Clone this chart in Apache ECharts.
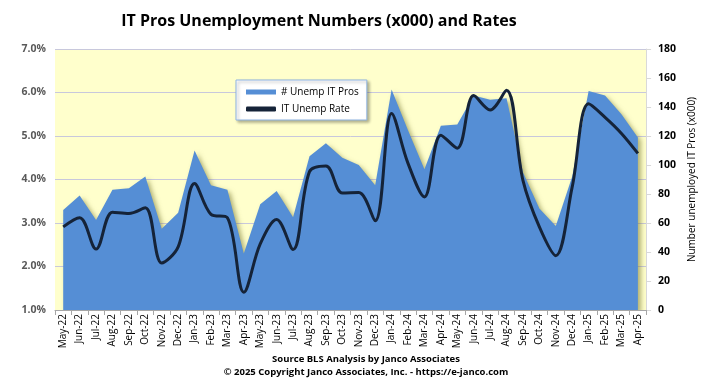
<!DOCTYPE html>
<html><head><meta charset="utf-8">
<script src="https://cdn.jsdelivr.net/npm/echarts@6/dist/echarts.min.js"></script>
<style>html,body{margin:0;padding:0;background:#fff}#c{width:705px;height:387px}</style>
</head><body><div id="c"></div>
<script>
const categories = ['May-22','Jun-22','Jul-22','Aug-22','Sep-22','Oct-22','Nov-22','Dec-22','Jan-23','Feb-23','Mar-23','Apr-23','May-23','Jun-23','Jul-23','Aug-23','Sep-23','Oct-23','Nov-23','Dec-23','Jan-24','Feb-24','Mar-24','Apr-24','May-24','Jun-24','Jul-24','Aug-24','Sep-24','Oct-24','Nov-24','Dec-24','Jan-25','Feb-25','Mar-25','Apr-25'];
const unempPros = [69,79,62,83,84,92,56,67,110,86,83,39,73,82,64,106,115,105,100,86,152,124,97,127,128,148,145,146,95,70,58,92,151,148,135,119];
const unempRate = [2.91,3.12,2.40,3.25,3.22,3.35,2.08,2.45,3.91,3.20,3.12,1.41,2.52,3.08,2.39,4.18,4.31,3.69,3.70,3.05,5.52,4.37,3.60,5.02,4.72,5.93,5.60,6.05,3.98,2.91,2.25,3.83,5.74,5.43,5.06,4.60];
const leftTicks = {min:1, max:7, interval:1};
const rightTicks = {min:0, max:180, interval:20};

const chart = echarts.init(document.getElementById('c'));
const font = '"Open Sans", "Liberation Sans", sans-serif';
chart.setOption({
  animation:false,
  backgroundColor:'#fff',
  title:{text:'IT Pros Unemployment Numbers (x000) and Rates', left:314, top:8, textAlign:'center',
    textStyle:{fontFamily:font, fontSize:16, fontWeight:'bold', color:'#000'}},
  legend:{left:236, top:80, width:145, orient:'vertical', itemGap:7, itemWidth:30, itemHeight:5,
    backgroundColor:'#fff', borderColor:'#8eb4e3', borderWidth:1, padding:[7,8,6,10],
    shadowColor:'rgba(0,0,0,0.3)', shadowBlur:3, shadowOffsetX:2, shadowOffsetY:2,
    textStyle:{fontFamily:font, fontSize:10, color:'#000'},
    data:[{name:'# Unemp IT Pros', icon:'rect'},{name:'IT Unemp Rate', icon:'roundRect'}]},
  grid:{left:55, right:56, top:49, bottom:77, show:true, backgroundColor:'#ffffcc', borderWidth:0},
  xAxis:{type:'category', data:categories, boundaryGap:true,
    axisLine:{lineStyle:{color:'#a6a6a6'}}, axisTick:{show:true, alignWithLabel:false, lineStyle:{color:'#a6a6a6'}},
    axisLabel:{rotate:90, interval:0, fontFamily:font, fontSize:10, color:'#000', margin:4}},
  yAxis:[
    {type:'value', min:leftTicks.min, max:leftTicks.max, interval:leftTicks.interval,
      axisLabel:{formatter:v=>v.toFixed(1)+'%', fontFamily:font, fontSize:10.5, fontWeight:'bold', color:'#595959', margin:9},
      axisLine:{show:false}, axisTick:{show:false},
      splitLine:{lineStyle:{color:'#c8c8dc', width:1}}},
    {type:'value', min:rightTicks.min, max:rightTicks.max, interval:rightTicks.interval, position:'right',
      name:'Number unemployed IT Pros (x000)', nameLocation:'middle', nameRotate:90, nameGap:36,
      nameTextStyle:{fontFamily:font, fontSize:10, color:'#000'},
      axisLabel:{fontFamily:font, fontSize:10.5, fontWeight:'bold', color:'#000', margin:12},
      axisLine:{show:true, lineStyle:{color:'#d9d9d9'}}, axisTick:{show:true, lineStyle:{color:'#d9d9d9'}},
      splitLine:{show:false}}
  ],
  series:[
    {name:'# Unemp IT Pros', type:'line', yAxisIndex:1, data:unempPros, symbol:'none', smooth:false,
      lineStyle:{width:0}, itemStyle:{color:'#558ed5'},
      areaStyle:{color:'#558ed5', opacity:1, shadowColor:'rgba(110,110,40,0.55)', shadowBlur:5, shadowOffsetX:3, shadowOffsetY:3}},
    {name:'IT Unemp Rate', type:'line', yAxisIndex:0, data:unempRate, symbol:'none', smooth:0.35,
      lineStyle:{width:3, color:'#152338'}, itemStyle:{color:'#152338'}}
  ],
  graphic:[
    {type:'text', x:366, y:354, style:{text:'Source BLS Analysis by Janco Associates', align:'center', fontFamily:font, fontSize:9.5, fontWeight:'bold', fill:'#000'}},
    {type:'text', x:366, y:367, style:{text:'© 2025 Copyright Janco Associates, Inc. - https://e-janco.com', align:'center', fontFamily:font, fontSize:9.5, fontWeight:'bold', fill:'#000'}}
  ]
});
</script></body></html>
